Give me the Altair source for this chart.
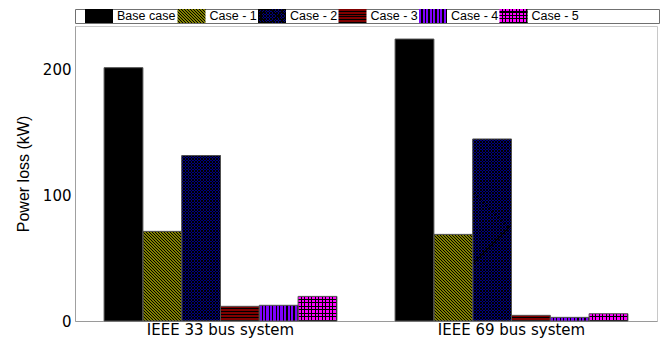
import altair as alt
import pandas as pd

# ---- data -------------------------------------------------------------
systems = ["IEEE 33 bus system", "IEEE 69 bus system"]
cases = ["Base case", "Case - 1", "Case - 2", "Case - 3", "Case - 4", "Case - 5"]
loss_33 = [201.8, 71.4, 131.8, 11.7, 12.5, 19.6]
loss_69 = [224.6, 69.0, 145.0, 4.5, 2.9, 5.8]

rows = []
for s, vals in zip(systems, [loss_33, loss_69]):
    for c, v in zip(cases, vals):
        rows.append({"system": s, "case": c, "loss": v})
df = pd.DataFrame(rows)
leg_df = pd.DataFrame({"case": cases})

# ---- geometry / style -------------------------------------------------
PLOT_W, PLOT_H = 582, 295
Y_MAX = 235
STEP = PLOT_W / (2 - 0.2 + 2 * 0.1)
BAR_W = STEP * 0.8 / 6
LEG_W, LEG_H, SW_W = 584, 14, 28
STEP_L = 80.5          # legend slot width
FIRST_SHIFT = 12       # the "Base case" entry is wider than the others

INK = "#000000"
CLEAR = "rgba(0,0,0,0)"
OLIVE, NAVY, MAROON, VIOLET, MAGENTA = "#808000", "#000080", "#800000", "#8000ff", "#ff00ff"


def stripes(bg, n, frac, x1, y1, x2, y2, line=INK):
    """Linear gradient made of n hard-edged bands: background then line."""
    stops = []
    for i in range(n):
        a, m, b = i / n, (i + 1 - frac) / n, (i + 1) / n
        stops += [{"offset": a, "color": bg}, {"offset": m, "color": bg},
                  {"offset": m, "color": line}, {"offset": b, "color": line}]
    return {"gradient": "linear", "x1": x1, "y1": y1, "x2": x2, "y2": y2, "stops": stops}


def diag_back(bg, w, h, period, frac):
    # 45 degree "\" hatching across a w x h box (period measured horizontally)
    k = (w + h) / (w * w + h * h)
    n = max(1, round((w + h) / period))
    return stripes(bg, n, frac, 0, 1, w * k, 1 - h * k)


def diag_fwd(bg, w, h, period, frac):
    # 45 degree "/" hatching across a w x h box (period measured horizontally)
    k = (w + h) / (w * w + h * h)
    n = max(1, round((w + h) / period))
    return stripes(bg, n, frac, 0, 0, w * k, h * k)


def vlines(bg, w, period, frac):
    return stripes(bg, max(1, round(w / period)), frac, 0, 0, 1, 0)


def hlines(bg, h, period, frac):
    return stripes(bg, max(1, round(h / period)), frac, 0, 0, 0, 1)


def fills(case, w, h):
    """Fill stack (base first, overlays after) for one case in a w x h box."""
    if case == cases[0]:
        return [INK]
    if case == cases[1]:
        return [diag_back(OLIVE, w, h, 3, 0.34)]
    if case == cases[2]:
        return [diag_back(NAVY, w, h, 3, 0.34), diag_fwd(CLEAR, w, h, 3, 0.34)]
    if case == cases[3]:
        return [hlines(MAROON, h, 3.0, 0.35)]
    if case == cases[4]:
        return [vlines(VIOLET, w, 3.5, 0.35)]
    return [vlines(MAGENTA, w, 3.5, 0.3), hlines(CLEAR, h, 3.5, 0.3)]


def px(v):
    return v * PLOT_H / Y_MAX


# ---- main bar chart ---------------------------------------------------
x_enc = alt.X(
    "system:N", sort=systems, title=None,
    scale=alt.Scale(paddingInner=0.2, paddingOuter=0.1),
    axis=alt.Axis(labelAngle=0, ticks=False, domainColor="#9a9a9a",
                  labelFont="DejaVu Sans", labelFontSize=15,
                  labelBaseline="alphabetic", labelPadding=13,
                  labelColor="#000000"),
)
off_enc = alt.XOffset("case:N", sort=cases,
                      scale=alt.Scale(paddingInner=0, paddingOuter=0))
y_enc = alt.Y(
    "loss:Q", title="Power loss (kW)",
    scale=alt.Scale(domain=[0, Y_MAX], nice=False),
    axis=alt.Axis(values=[0, 100, 200], grid=False, ticks=False,
                  domainColor="#a0a0a0", labelFont="DejaVu Sans",
                  labelFontSize=15, labelPadding=4, labelColor="#000000",
                  labelFlush=False, titleFont="Liberation Sans",
                  titleFontSize=16, titleFontWeight="normal",
                  titleColor="#000000", titlePadding=11),
)
base = alt.Chart(df).encode(x=x_enc, xOffset=off_enc, y=y_enc)

layers = []
for ci, case in enumerate(cases):
    f33 = fills(case, BAR_W, px(loss_33[ci]))
    f69 = fills(case, BAR_W, px(loss_69[ci]))
    for j in range(len(f33)):
        layers.append(
            base.transform_filter(alt.datum.case == case)
            .mark_bar(strokeWidth=0)
            .encode(fill=alt.when(alt.datum.system == systems[0])
                    .then(alt.value(f33[j]))
                    .otherwise(alt.value(f69[j])))
        )
layers.append(base.mark_bar(fillOpacity=0, stroke="#505050", strokeWidth=1))

main = alt.layer(*layers).properties(
    width=PLOT_W, height=PLOT_H,
    view=alt.ViewBackground(stroke="#c8c8c8", strokeWidth=1),
)

# ---- legend strip -----------------------------------------------------
leg_scale = alt.Scale(range=[22, 22 + 6 * STEP_L], paddingInner=0, paddingOuter=0)
leg_base = alt.Chart(leg_df).encode(x=alt.X("case:N", sort=cases, axis=None, scale=leg_scale))
leg_layers = []
for ci, case in enumerate(cases):
    shift = -(STEP_L / 2 - SW_W / 2) - (FIRST_SHIFT if ci == 0 else 0)
    for f in fills(case, SW_W, LEG_H):
        leg_layers.append(
            leg_base.transform_filter(alt.datum.case == case)
            .mark_bar(width=SW_W, xOffset=shift, fill=f, strokeWidth=0)
        )
leg_text = alt.Chart(leg_df).encode(
    x=alt.X("case:N", sort=cases, axis=None, bandPosition=0, scale=leg_scale),
    text="case:N",
)
text_style = dict(align="left", baseline="middle", font="Liberation Sans",
                  fontSize=12.5, color="#000000")
leg_layers.append(leg_text.transform_filter(alt.datum.case == cases[0])
                  .mark_text(dx=32 - FIRST_SHIFT, **text_style))
leg_layers.append(leg_text.transform_filter(alt.datum.case != cases[0])
                  .mark_text(dx=32, **text_style))
legend = alt.layer(*leg_layers).properties(
    width=LEG_W, height=LEG_H,
    view=alt.ViewBackground(stroke="#707070", strokeWidth=1),
)

chart = (
    alt.vconcat(legend, main, spacing=1)
    .properties(padding={"left": 14, "top": 8, "right": 0, "bottom": 0},
                background="#ffffff")
    .resolve_scale(x="independent")
)

chart.save("out.html", embed_options={"renderer": "svg", "actions": False})
